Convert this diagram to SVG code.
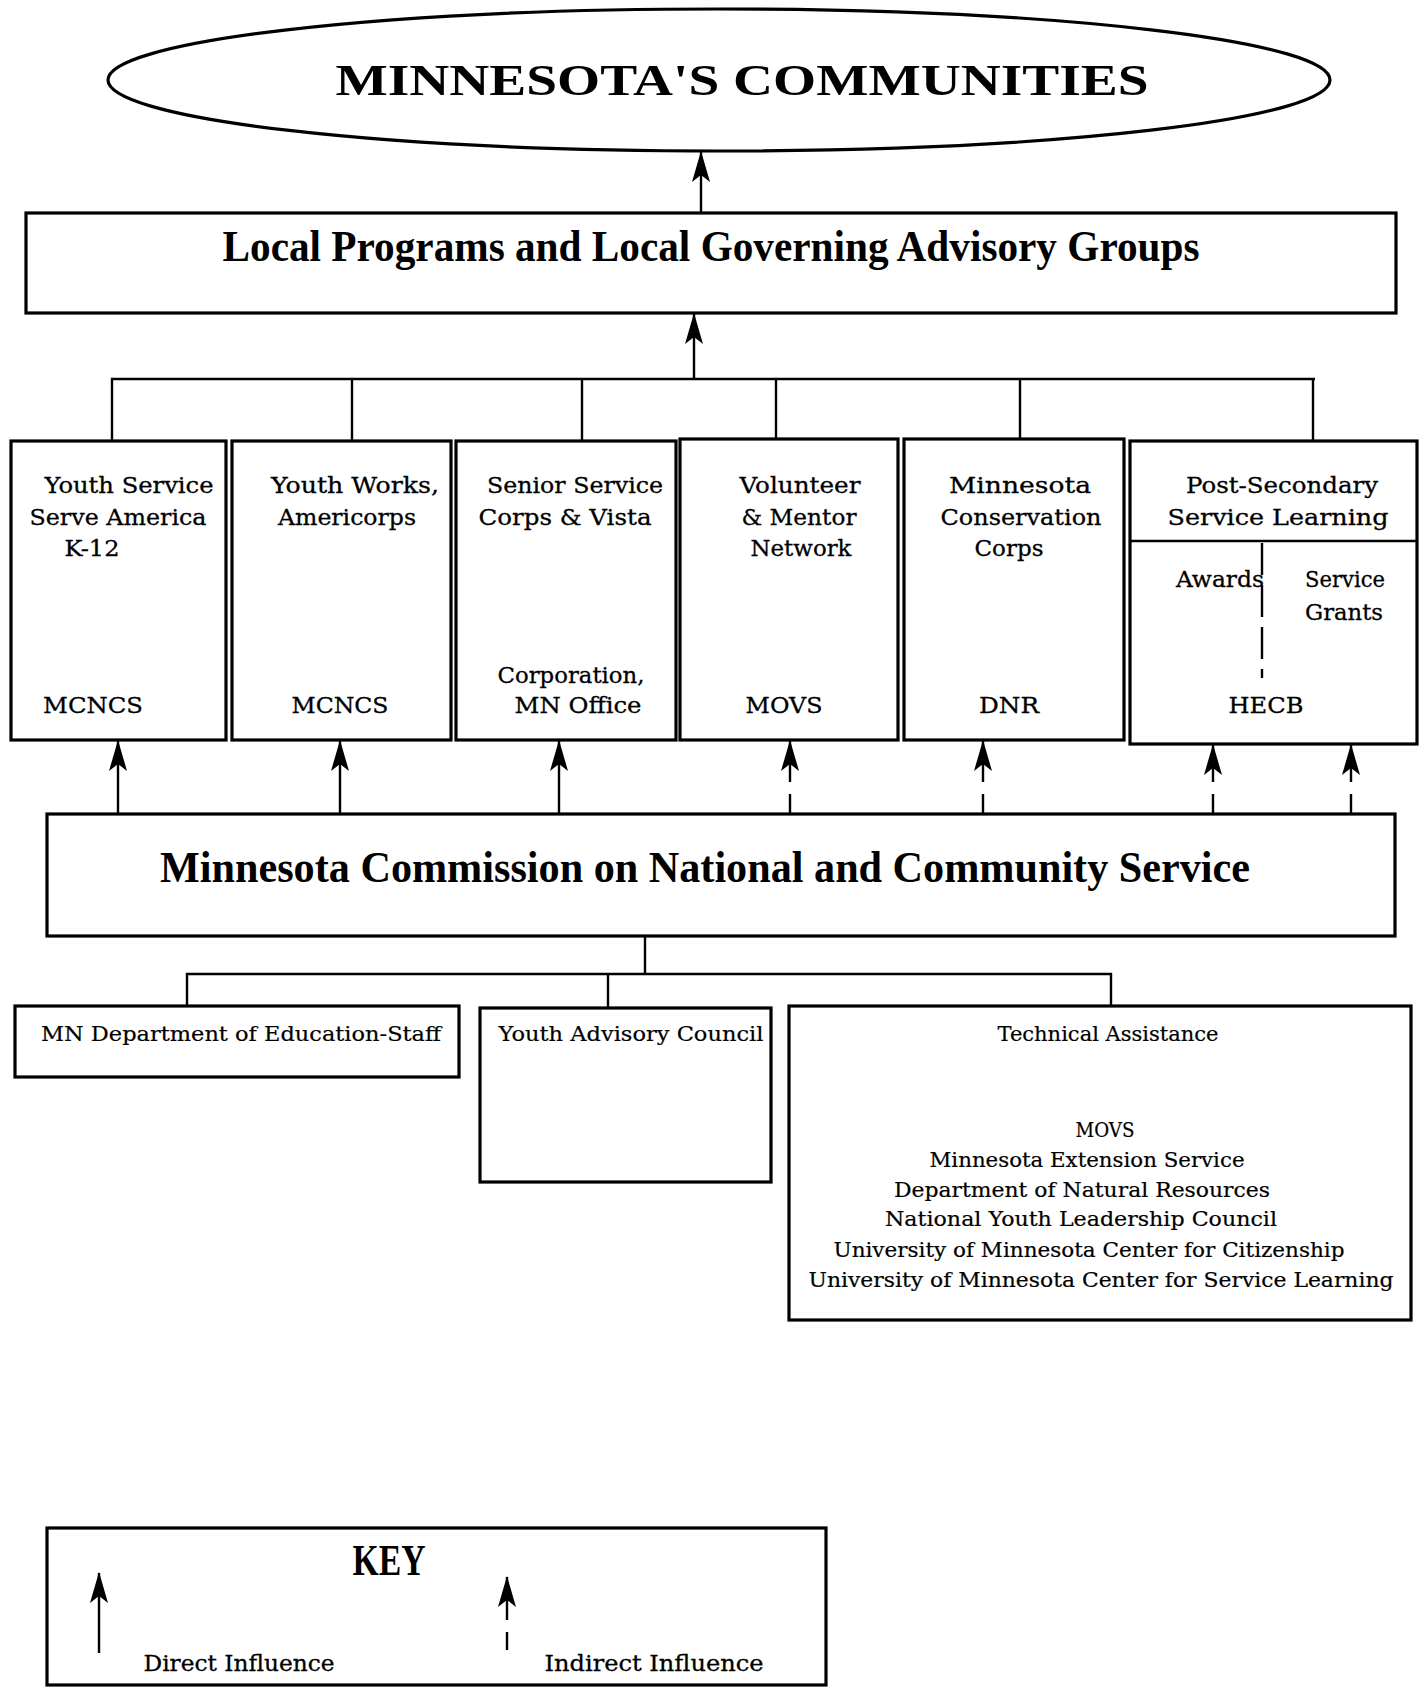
<svg xmlns="http://www.w3.org/2000/svg" width="1420" height="1687" viewBox="0 0 1420 1687">
<style>
  .box { fill: #fff; stroke: #000; stroke-width: 3.2; }
  .ln { fill: none; stroke: #000; stroke-width: 2.4; }
  .dash { fill: none; stroke: #000; stroke-width: 2.4; }
  .t { font-family: "DejaVu Serif", "Liberation Serif", serif; font-size: 23px; fill: #000; stroke: #000; stroke-width: 0.3; text-anchor: middle; }
  .s { font-family: "DejaVu Serif", "Liberation Serif", serif; font-size: 20px; fill: #000; stroke: #000; stroke-width: 0.2; text-anchor: middle; }
  .big { font-family: "Liberation Serif", "DejaVu Serif", serif; font-weight: bold; font-size: 44px; fill: #000; text-anchor: middle; }
</style>
<defs>
  <marker id="ah" viewBox="-32 -10 34 20" markerWidth="34" markerHeight="20" refX="0" refY="0" orient="auto" markerUnits="userSpaceOnUse">
    <path d="M1,0 L-30,-9 L-23,0 L-30,9 Z" fill="#000"/>
  </marker>
</defs>
<rect x="0" y="0" width="1420" height="1687" fill="#fff"/>

<g id="communities">
  <ellipse class="box" cx="719" cy="80" rx="611" ry="71"/>
  <text class="big" x="742" y="95" font-size="50" textLength="813" lengthAdjust="spacingAndGlyphs">MINNESOTA'S COMMUNITIES</text>
</g>

<g id="local">
  <rect class="box" x="26" y="213" width="1370" height="100"/>
  <text class="big" x="711" y="261" textLength="977" lengthAdjust="spacingAndGlyphs">Local Programs and Local Governing Advisory Groups</text>
</g>

<g id="youth-service">
  <rect class="box" x="11" y="441" width="215" height="299"/>
  <text class="t" x="129" y="493" textLength="169" lengthAdjust="spacingAndGlyphs">Youth Service</text>
  <text class="t" x="118" y="525" textLength="177" lengthAdjust="spacingAndGlyphs">Serve America</text>
  <text class="t" x="92" y="556" textLength="55" lengthAdjust="spacingAndGlyphs">K-12</text>
  <text class="t" x="93" y="713" textLength="100" lengthAdjust="spacingAndGlyphs">MCNCS</text>
</g>

<g id="youth-works">
  <rect class="box" x="232" y="441" width="219" height="299"/>
  <text class="t" x="355" y="493" textLength="168" lengthAdjust="spacingAndGlyphs">Youth Works,</text>
  <text class="t" x="347" y="525" textLength="138" lengthAdjust="spacingAndGlyphs">Americorps</text>
  <text class="t" x="340" y="713" textLength="97" lengthAdjust="spacingAndGlyphs">MCNCS</text>
</g>

<g id="senior-service">
  <rect class="box" x="456" y="441" width="220" height="299"/>
  <text class="t" x="575" y="493" textLength="176" lengthAdjust="spacingAndGlyphs">Senior Service</text>
  <text class="t" x="565" y="525" textLength="173" lengthAdjust="spacingAndGlyphs">Corps &amp; Vista</text>
  <text class="t" x="571" y="683" textLength="147" lengthAdjust="spacingAndGlyphs">Corporation,</text>
  <text class="t" x="578" y="713" textLength="127" lengthAdjust="spacingAndGlyphs">MN Office</text>
</g>

<g id="volunteer">
  <rect class="box" x="680" y="439" width="218" height="301"/>
  <text class="t" x="800" y="493" textLength="121" lengthAdjust="spacingAndGlyphs">Volunteer</text>
  <text class="t" x="799" y="525" textLength="115" lengthAdjust="spacingAndGlyphs">&amp; Mentor</text>
  <text class="t" x="801" y="556" textLength="101" lengthAdjust="spacingAndGlyphs">Network</text>
  <text class="t" x="784" y="713" textLength="77" lengthAdjust="spacingAndGlyphs">MOVS</text>
</g>

<g id="conservation">
  <rect class="box" x="904" y="439" width="220" height="301"/>
  <text class="t" x="1020" y="493" textLength="142" lengthAdjust="spacingAndGlyphs">Minnesota</text>
  <text class="t" x="1021" y="525" textLength="161" lengthAdjust="spacingAndGlyphs">Conservation</text>
  <text class="t" x="1009" y="556" textLength="69" lengthAdjust="spacingAndGlyphs">Corps</text>
  <text class="t" x="1009" y="713" textLength="60" lengthAdjust="spacingAndGlyphs">DNR</text>
</g>

<g id="post-secondary">
  <rect class="box" x="1130" y="441" width="287" height="303"/>
  <line class="ln" x1="1130" y1="541" x2="1417" y2="541" stroke-width="3.2"/>
  <line class="dash" x1="1262" y1="543" x2="1262" y2="678" stroke-width="3" stroke-dasharray="32 10"/>
  <text class="t" x="1282" y="493" textLength="192" lengthAdjust="spacingAndGlyphs">Post-Secondary</text>
  <text class="t" x="1278" y="525" textLength="221" lengthAdjust="spacingAndGlyphs">Service Learning</text>
  <text class="t" x="1220" y="587" textLength="88" lengthAdjust="spacingAndGlyphs">Awards</text>
  <text class="t" x="1345" y="587" textLength="80" lengthAdjust="spacingAndGlyphs">Service</text>
  <text class="t" x="1344" y="620" textLength="78" lengthAdjust="spacingAndGlyphs">Grants</text>
  <text class="t" x="1266" y="713" textLength="75" lengthAdjust="spacingAndGlyphs">HECB</text>
</g>

<g id="commission">
  <rect class="box" x="47" y="814" width="1348" height="122"/>
  <text class="big" x="705" y="882" textLength="1090" lengthAdjust="spacingAndGlyphs">Minnesota Commission on National and Community Service</text>
</g>

<g id="mn-dept-education">
  <rect class="box" x="15" y="1006" width="444" height="71"/>
  <text class="s" x="241" y="1041" font-size="21" textLength="400" lengthAdjust="spacingAndGlyphs">MN Department of Education-Staff</text>
</g>

<g id="youth-advisory">
  <rect class="box" x="480" y="1008" width="291" height="174"/>
  <text class="s" x="631" y="1041" font-size="21" textLength="265" lengthAdjust="spacingAndGlyphs">Youth Advisory Council</text>
</g>

<g id="technical-assistance">
  <rect class="box" x="789" y="1006" width="622" height="314"/>
  <text class="s" x="1108" y="1041" textLength="221" lengthAdjust="spacingAndGlyphs">Technical Assistance</text>
  <text class="s" x="1105" y="1137" textLength="59" lengthAdjust="spacingAndGlyphs">MOVS</text>
  <text class="s" x="1087" y="1167" textLength="315" lengthAdjust="spacingAndGlyphs">Minnesota Extension Service</text>
  <text class="s" x="1082" y="1197" textLength="376" lengthAdjust="spacingAndGlyphs">Department of Natural Resources</text>
  <text class="s" x="1081" y="1226" textLength="392" lengthAdjust="spacingAndGlyphs">National Youth Leadership Council</text>
  <text class="s" x="1089" y="1257" textLength="511" lengthAdjust="spacingAndGlyphs">University of Minnesota Center for Citizenship</text>
  <text class="s" x="1101" y="1287" textLength="585" lengthAdjust="spacingAndGlyphs">University of Minnesota Center for Service Learning</text>
</g>

<g id="connectors">
  <line class="ln" x1="701" y1="213" x2="701" y2="152" marker-end="url(#ah)"/>
  <line class="ln" x1="694" y1="379" x2="694" y2="314" marker-end="url(#ah)"/>
  <path class="ln" d="M112,441 V379 H1315 M352,379 V441 M582,379 V441 M776,379 V439 M1020,379 V439 M1313,379 V441" stroke-width="3"/>
  <line class="ln" x1="118" y1="814" x2="118" y2="741" marker-end="url(#ah)"/>
  <line class="ln" x1="340" y1="814" x2="340" y2="741" marker-end="url(#ah)"/>
  <line class="ln" x1="559" y1="814" x2="559" y2="741" marker-end="url(#ah)"/>
  <line class="dash" x1="790" y1="814" x2="790" y2="741" stroke-dasharray="20 12 60" marker-end="url(#ah)"/>
  <line class="dash" x1="983" y1="814" x2="983" y2="741" stroke-dasharray="20 12 60" marker-end="url(#ah)"/>
  <line class="dash" x1="1213" y1="814" x2="1213" y2="745" stroke-dasharray="20 12 60" marker-end="url(#ah)"/>
  <line class="dash" x1="1351" y1="814" x2="1351" y2="745" stroke-dasharray="20 12 60" marker-end="url(#ah)"/>
  <path class="ln" d="M645,936 V974 M187,1006 V974 H1111 V1006 M608,974 V1008" stroke-width="3"/>
</g>

<g id="key">
  <rect class="box" x="47" y="1528" width="779" height="157"/>
  <text class="big" x="389" y="1575" font-size="30" textLength="73" lengthAdjust="spacingAndGlyphs">KEY</text>
  <line class="ln" x1="99" y1="1653" x2="99" y2="1573" marker-end="url(#ah)"/>
  <text class="t" x="239" y="1671" font-size="22" textLength="191" lengthAdjust="spacingAndGlyphs">Direct Influence</text>
  <line class="dash" x1="507" y1="1650" x2="507" y2="1577" stroke-dasharray="18 12 60" marker-end="url(#ah)"/>
  <text class="t" x="654" y="1671" font-size="22" textLength="219" lengthAdjust="spacingAndGlyphs">Indirect Influence</text>
</g>
</svg>
